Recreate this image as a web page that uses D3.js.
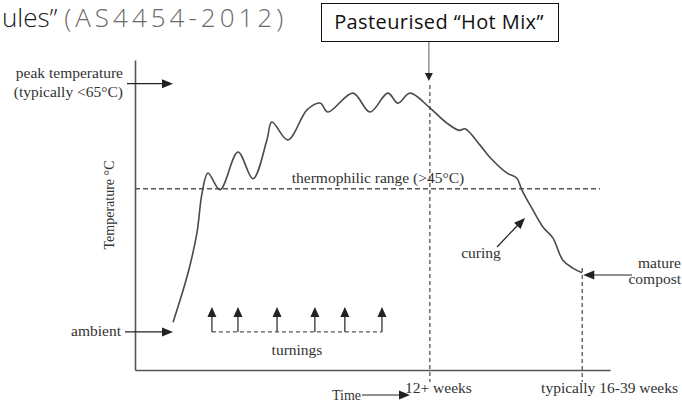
<!DOCTYPE html>
<html>
<head>
<meta charset="utf-8">
<script src="https://cdn.jsdelivr.net/npm/d3@7"></script>
<style>
  html, body { margin: 0; padding: 0; background: #fff; }
  svg { display: block; }
  .serif { font-family: "Liberation Serif", "DejaVu Serif", serif; fill: #333; }
</style>
</head>
<body>
<svg id="chart" width="682" height="412"></svg>
<script>
// ---- data (time in weeks, temperature in °C) ----
const curveWeeks = [1.55, 2.16, 2.52, 2.73, 2.97, 3.46, 4.19, 4.80, 5.37, 5.57, 6.22, 7.00, 7.53, 7.85, 8.87, 9.56, 10.29, 10.70, 11.19, 12.00, 12.69, 13.20, 13.43, 14.04, 14.44, 15.13, 15.54, 15.74, 16.15, 16.60, 17.01, 17.41, 17.82, 18.19];
const curveTemps = [19.6, 29.0, 36.6, 44.2, 48.0, 44.8, 52.0, 46.9, 54.3, 57.7, 54.3, 60.0, 61.3, 59.6, 63.2, 59.6, 63.2, 61.3, 63.2, 60.4, 57.5, 56.1, 56.4, 53.3, 51.0, 48.0, 47.0, 44.8, 41.3, 37.7, 35.6, 31.4, 29.9, 29.0];
const turningWeeks = [3.13, 4.19, 5.78, 7.32, 8.54, 10.05];
const markerWeeks = [12, 18.2];
const markerLabels = ["12+ weeks", "typically 16-39 weeks"];
const thermophilicTemp = 45;
const peakTemp = 65;
const ambientTemp = 17.75;
const turningTipTemp = 22.5;
const timeDomain = [0, 19.33];
const tempDomain = [10.5, 69.5];

const svg = d3.select("#chart");
const x = d3.scaleLinear().domain(timeDomain).range([135, 610]);
const y = d3.scaleLinear().domain(tempDomain).range([370, 60]);

const ink = "#222";
const lineCol = "#555";
const fs = "15.5px";

function arrowHead(g, tx, ty, angle, len = 11, half = 4.5, col = ink) {
  const p = [[0, 0], [-len, -half], [-len, half]].map(([a, b]) => {
    const c = Math.cos(angle), s = Math.sin(angle);
    return [tx + a * c - b * s, ty + a * s + b * c];
  });
  g.append("path").attr("d", "M" + p.join("L") + "Z").attr("fill", col);
}

// title fragment
const title = svg.append("text").attr("x", 2).attr("y", 27)
  .style("font-family", "'Open Sans', sans-serif").style("font-weight", 300).style("font-size", "26px");
title.append("tspan").attr("fill", "#1a1a1a").text("ules\u201D ");
title.append("tspan").attr("fill", "#6a6a6a").style("letter-spacing", "4px").text("(AS4454-2012)");

// axes (domain lines only)
const yAxis = svg.append("g").attr("transform", `translate(${x(0)},0)`)
  .call(d3.axisLeft(y).tickValues([]).tickSizeOuter(0));
const xAxis = svg.append("g").attr("transform", `translate(0,${y(tempDomain[0])})`)
  .call(d3.axisBottom(x).tickValues([]).tickSizeOuter(0));
[yAxis, xAxis].forEach(a => a.select(".domain").attr("stroke", lineCol).attr("stroke-width", 1.6));

// y label
svg.append("text").attr("class", "serif")
  .attr("transform", `translate(114,205) rotate(-90)`)
  .attr("text-anchor", "middle").style("font-size", "14px")
  .text("Temperature \u00B0C");

// thermophilic dashed line
svg.append("line")
  .attr("x1", x(0)).attr("x2", 600)
  .attr("y1", y(thermophilicTemp)).attr("y2", y(thermophilicTemp))
  .attr("stroke", lineCol).attr("stroke-width", 1.3).attr("stroke-dasharray", "5,3");
svg.append("text").attr("class", "serif")
  .attr("x", 378).attr("y", y(thermophilicTemp) - 6)
  .attr("text-anchor", "middle").style("font-size", fs)
  .text("thermophilic range (>45\u00B0C)");

// marker vertical dashed lines
const markerTop = [85, 268];
markerWeeks.forEach((w, i) => {
  svg.append("line")
    .attr("x1", x(w)).attr("x2", x(w))
    .attr("y1", markerTop[i]).attr("y2", 382)
    .attr("stroke", lineCol).attr("stroke-width", 1.3).attr("stroke-dasharray", "4,3");
});
svg.append("text").attr("class", "serif")
  .attr("x", 405).attr("y", 393).style("font-size", fs).text(markerLabels[0]);
svg.append("text").attr("class", "serif")
  .attr("x", 678).attr("y", 393).attr("text-anchor", "end").style("font-size", fs).text(markerLabels[1]);

// temperature curve
const line = d3.line()
  .x((d, i) => x(curveWeeks[i]))
  .y(d => y(d))
  .curve(d3.curveCatmullRom.alpha(0.5));
svg.append("path").datum(curveTemps)
  .attr("d", line)
  .attr("fill", "none").attr("stroke", "#4a4a4a").attr("stroke-width", 1.6);

const ann = svg.append("g");

// peak temperature arrow
ann.append("line").attr("x1", 127).attr("x2", 162).attr("y1", y(peakTemp)).attr("y2", y(peakTemp))
  .attr("stroke", ink).attr("stroke-width", 1.2);
arrowHead(ann, 173, y(peakTemp), 0);
svg.append("text").attr("class", "serif").attr("x", 123).attr("y", 78)
  .attr("text-anchor", "end").style("font-size", fs).text("peak temperature");
svg.append("text").attr("class", "serif").attr("x", 123).attr("y", 97)
  .attr("text-anchor", "end").style("font-size", fs).text("(typically <65\u00B0C)");

// ambient arrow
ann.append("line").attr("x1", 125).attr("x2", 162).attr("y1", y(ambientTemp)).attr("y2", y(ambientTemp))
  .attr("stroke", ink).attr("stroke-width", 1.2);
arrowHead(ann, 173, y(ambientTemp), 0);
svg.append("text").attr("class", "serif").attr("x", 121).attr("y", y(ambientTemp) + 4)
  .attr("text-anchor", "end").style("font-size", fs).text("ambient");

// turnings
svg.append("line")
  .attr("x1", x(turningWeeks[0])).attr("x2", x(turningWeeks[turningWeeks.length - 1]))
  .attr("y1", y(ambientTemp)).attr("y2", y(ambientTemp))
  .attr("stroke", lineCol).attr("stroke-width", 1.2).attr("stroke-dasharray", "4,3");
turningWeeks.forEach(w => {
  ann.append("line").attr("x1", x(w)).attr("x2", x(w))
    .attr("y1", y(ambientTemp)).attr("y2", y(turningTipTemp) + 8)
    .attr("stroke", ink).attr("stroke-width", 1.2);
  arrowHead(ann, x(w), y(turningTipTemp), -Math.PI / 2, 10, 4.5);
});
svg.append("text").attr("class", "serif").attr("x", 297).attr("y", 355)
  .attr("text-anchor", "middle").style("font-size", fs).text("turnings");

// curing arrow
ann.append("line").attr("x1", 497).attr("y1", 247).attr("x2", 518).attr("y2", 225)
  .attr("stroke", ink).attr("stroke-width", 1.2);
arrowHead(ann, 525, 218, Math.atan2(218 - 247, 525 - 497), 11, 4.5);
svg.append("text").attr("class", "serif").attr("x", 481).attr("y", 258)
  .attr("text-anchor", "middle").style("font-size", fs).text("curing");

// mature compost arrow
const matY = 275;
ann.append("line").attr("x1", 632).attr("x2", 592).attr("y1", matY).attr("y2", matY)
  .attr("stroke", ink).attr("stroke-width", 1.2);
arrowHead(ann, x(markerWeeks[1]) + 1, matY, Math.PI);
svg.append("text").attr("class", "serif").attr("x", 681).attr("y", 268)
  .attr("text-anchor", "end").style("font-size", fs).text("mature");
svg.append("text").attr("class", "serif").attr("x", 681).attr("y", 284)
  .attr("text-anchor", "end").style("font-size", fs).text("compost");

// Time arrow
svg.append("text").attr("class", "serif").attr("x", 361).attr("y", 400)
  .attr("text-anchor", "end").style("font-size", "14px").text("Time");
ann.append("line").attr("x1", 362).attr("x2", 400).attr("y1", 395).attr("y2", 395)
  .attr("stroke", ink).attr("stroke-width", 1.2);
arrowHead(ann, 410, 395, 0);

// Pasteurised box
svg.append("rect").attr("x", 321.5).attr("y", 3.5).attr("width", 237).attr("height", 38)
  .attr("fill", "#fff").attr("stroke", "#111").attr("stroke-width", 1);
svg.append("text").attr("x", 439).attr("y", 29).attr("text-anchor", "middle")
  .style("font-family", "'Open Sans', sans-serif").style("font-size", "20px")
  .style("letter-spacing", "0.4px").attr("fill", "#111")
  .text("Pasteurised \u201CHot Mix\u201D");
ann.append("line").attr("x1", x(markerWeeks[0]) - 1).attr("x2", x(markerWeeks[0]) - 1).attr("y1", 42).attr("y2", 74)
  .attr("stroke", "#777").attr("stroke-width", 1.2);
arrowHead(ann, x(markerWeeks[0]) - 1, 81, Math.PI / 2, 8, 4);
</script>
</body>
</html>
